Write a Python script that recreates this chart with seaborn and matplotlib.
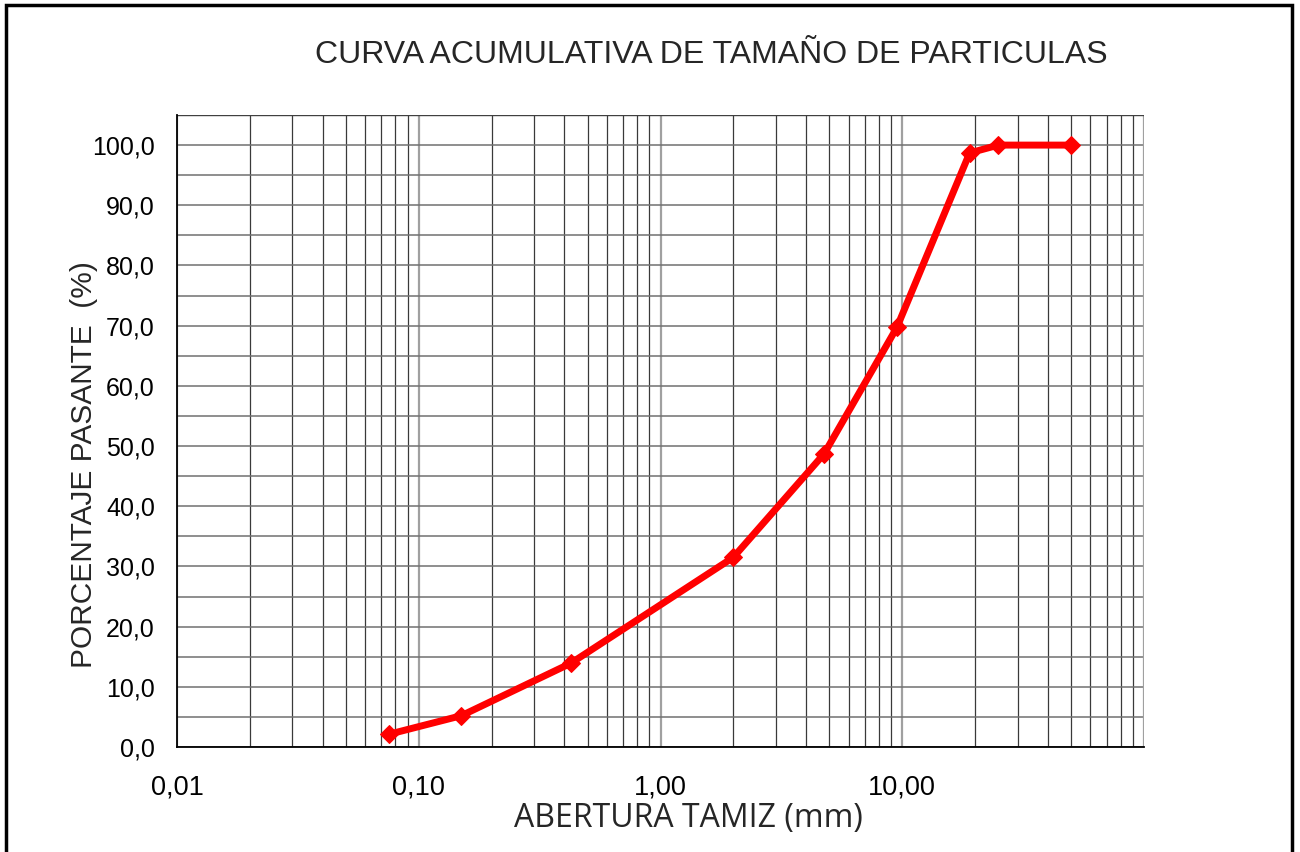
import matplotlib
matplotlib.use("Agg")
import matplotlib.pyplot as plt
import seaborn as sns
import numpy as np
import pandas as pd
from matplotlib.patches import Rectangle
from matplotlib.ticker import LogLocator, FixedLocator, NullFormatter

# Data
abertura_mm = [0.075, 0.15, 0.425, 2.0, 4.75, 9.5, 19.0, 25.0, 50.0]
pasante = [2.1, 5.2, 13.9, 31.5, 48.7, 69.7, 98.7, 100.0, 100.0]
x_ticks = [0.01, 0.1, 1, 10]
x_tick_labels = ["0,01", "0,10", "1,00", "10,00"]
y_ticks = [0, 10, 20, 30, 40, 50, 60, 70, 80, 90, 100]
y_tick_labels = ["0,0", "10,0", "20,0", "30,0", "40,0", "50,0", "60,0", "70,0", "80,0", "90,0", "100,0"]
title = "CURVA ACUMULATIVA DE TAMAÑO DE PARTICULAS"
xlabel = "ABERTURA TAMIZ (mm)"
ylabel = "PORCENTAJE PASANTE  (%)"

sns.set_style("white")
plt.rcParams['font.family'] = ['Liberation Sans', 'DejaVu Sans']

fig = plt.figure(figsize=(13, 8.52), dpi=100)
ax = fig.add_axes([177/1300, 1-747/852, (1144-177)/1300, (747-115)/852])

df = pd.DataFrame({"abertura": abertura_mm, "pasante": pasante})
sns.lineplot(data=df, x="abertura", y="pasante", ax=ax, color="#ff0000",
             linewidth=5, marker="D", markersize=9, markeredgecolor="#ff0000",
             zorder=5)

ax.set_xscale("log")
ax.set_xlim(0.01, 100)
ax.set_ylim(0, 105)

# Grid
ax.xaxis.set_major_locator(FixedLocator(x_ticks))
ax.set_xticklabels(x_tick_labels)
ax.xaxis.set_minor_locator(LogLocator(base=10, subs=np.arange(2, 10)))
ax.xaxis.set_minor_formatter(NullFormatter())
ax.set_yticks(y_ticks)
ax.set_yticklabels(y_tick_labels)
ax.yaxis.set_minor_locator(FixedLocator(np.arange(5, 106, 10)))

ax.grid(True, which="major", axis="x", color="#a0a0a0", linewidth=1.6)
ax.grid(True, which="minor", axis="x", color="#3a3a3a", linewidth=0.9)
ax.grid(True, which="both", axis="y", color="#707070", linewidth=1.1)
ax.axvline(100, color="#a0a0a0", linewidth=1.6, zorder=1)

for s in ["top", "right"]:
    ax.spines[s].set_visible(False)
ax.axhline(105, color="#404040", linewidth=1.0, zorder=1)
ax.spines["left"].set_color("black")
ax.spines["left"].set_linewidth(1.3)
ax.spines["bottom"].set_color("black")
ax.spines["bottom"].set_linewidth(1.3)

ax.tick_params(axis="both", which="major", direction="out", length=6, width=1.2,
               color="#a0a0a0", labelsize=18, labelcolor="black")
ax.tick_params(axis="x", which="major", pad=14, labelsize=19.5)
ax.tick_params(axis="y", which="major", pad=10)
ax.tick_params(axis="both", which="minor", length=0)

ax.set_xlabel(xlabel, fontsize=23, family=['Open Sans', 'DejaVu Sans'])
ax.xaxis.label.set_va("center")
ax.xaxis.set_label_coords((688-177)/967, -(819-747)/632)
ax.set_ylabel(ylabel, fontsize=21.5)
ax.yaxis.label.set_va("center")
ax.yaxis.set_label_coords((84-177)/967, (747-465)/632)

fig.text(711/1300, 1-55/852, title, fontsize=23, ha="center", va="center")

# Outer frame
fig.patches.append(Rectangle((6/1300, -0.01), (1292-6)/1300, 1-5/852 + 0.01,
                             transform=fig.transFigure, fill=False,
                             edgecolor="black", linewidth=2.5, zorder=10))

fig.savefig("out.png", dpi=100)
